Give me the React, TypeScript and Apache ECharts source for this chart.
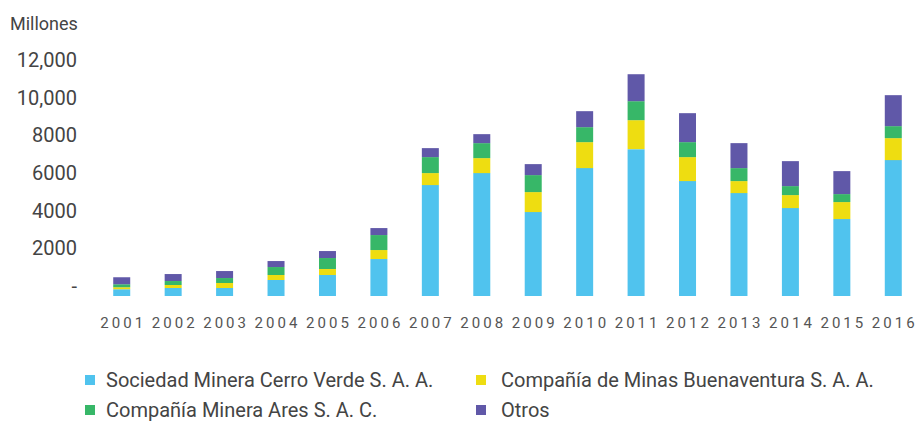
import React, { useEffect, useRef } from "react";
import * as echarts from "echarts";

const years = ["2001","2002","2003","2004","2005","2006","2007","2008","2009","2010","2011","2012","2013","2014","2015","2016"];
const cerroVerde = [355, 424, 424, 849, 1114, 1963, 5889, 6525, 4456, 6790, 7798, 6101, 5464, 4668, 4085, 7215];
const buenaventura = [106, 159, 265, 265, 318, 477, 637, 796, 1061, 1379, 1538, 1273, 637, 690, 902, 1167];
const ares = [159, 212, 265, 424, 584, 796, 849, 796, 902, 796, 1008, 796, 690, 477, 424, 637];
const otros = [371, 371, 371, 318, 371, 371, 477, 477, 584, 849, 1432, 1538, 1326, 1326, 1220, 1645];
const yTickLabels: Record<number, string> = { 0: "-", 2000: "2000", 4000: "4000", 6000: "6000", 8000: "8000", 10000: "10,000", 12000: "12,000" };

const names = [
  "Sociedad Minera Cerro Verde S. A. A.",
  "Compañía de Minas Buenaventura S. A. A.",
  "Compañía Minera Ares S. A. C.",
  "Otros",
];
const colors = ["#50C3EE", "#EEDD11", "#37B768", "#6058A8"];

export default function App() {
  const ref = useRef<HTMLDivElement>(null);
  useEffect(() => {
    document.body.style.margin = "0";
    const chart = echarts.init(ref.current!, null, { renderer: "svg" });
    const font = "Roboto, 'Noto Sans', sans-serif";
    const mk = (i: number, data: number[]) => ({
      name: names[i],
      type: "bar",
      stack: "total",
      barWidth: 17,
      data,
      itemStyle: { color: colors[i] },
    });
    const leg = (name: string, left: number, top: number, gap: number) => ({
      data: [name],
      orient: "horizontal",
      left,
      top,
      padding: 0,
      icon: "rect",
      itemWidth: 10,
      itemHeight: 10,
      textStyle: { fontSize: 20, color: "#444", fontFamily: font, padding: [0, 0, 0, gap] },
    });
    chart.setOption({
      animation: false,
      textStyle: { fontFamily: font },
      title: {
        text: "Millones",
        left: 5,
        top: 9,
        textStyle: { fontSize: 18, fontWeight: "normal", color: "#444", fontFamily: font },
      },
      grid: { left: 96, top: 70, width: 827, height: 226 },
      legend: [
        leg(names[0], 85, 370, 6),
        leg(names[2], 85, 400, 6),
        leg(names[1], 476, 370, 10),
        leg(names[3], 476, 400, 10),
      ],
      xAxis: {
        type: "category",
        data: years,
        axisLine: { show: false },
        axisTick: { show: false },
        axisLabel: {
          interval: 0,
          margin: 19,
          fontSize: 15,
          color: "#555",
          fontFamily: font,
          formatter: (v: string) => v.split("").join("\u2009"),
        },
      },
      yAxis: {
        type: "value",
        min: 0,
        max: 12000,
        interval: 2000,
        axisLine: { show: false },
        axisTick: { show: false },
        splitLine: { show: false },
        axisLabel: {
          margin: 19,
          fontSize: 20,
          color: "#444",
          fontFamily: font,
          verticalAlign: "bottom",
          lineHeight: 20,
          formatter: (v: number) => yTickLabels[v] ?? String(v),
        },
      },
      series: [mk(0, cerroVerde), mk(1, buenaventura), mk(2, ares), mk(3, otros)],
    });
    return () => chart.dispose();
  }, []);
  return <div ref={ref} style={{ width: 919, height: 421 }} />;
}
